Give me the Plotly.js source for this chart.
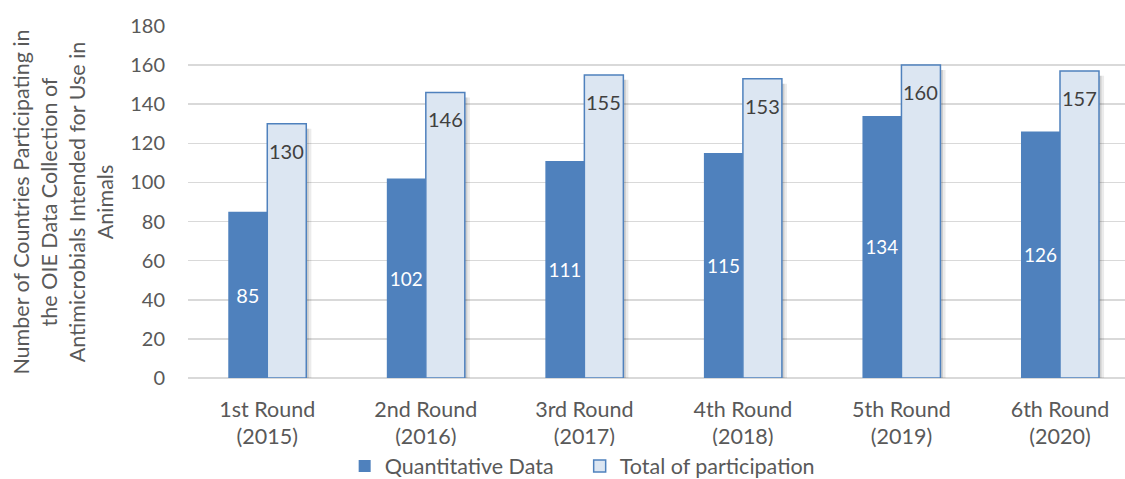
<!DOCTYPE html>
<html>
<head>
<meta charset="utf-8">
<script src="https://cdn.plot.ly/plotly-3.0.1.min.js"></script>
<style>html,body{margin:0;padding:0;background:#fff;}#chart{width:1125px;height:479px;}</style>
</head>
<body>
<div id="chart"></div>
<script>
const categories = ["1st Round<br>(2015)", "2nd Round<br>(2016)", "3rd Round<br>(2017)", "4th Round<br>(2018)", "5th Round<br>(2019)", "6th Round<br>(2020)"];
const quantitative = [85, 102, 111, 115, 134, 126];
const total = [130, 146, 155, 153, 160, 157];
const seriesNames = ["Quantitative Data", "Total of participation"];
const yTicks = [0, 20, 40, 60, 80, 100, 120, 140, 160, 180];

const FONT = "Lato, 'Open Sans', sans-serif";
const TXT = 21.5;
const BW = 0.246;           // bar width in category units
const SH = 0.032;           // shadow strip width
const traces = [
  // soft shadow right of the total bars
  {type: "bar", x: categories, y: total.map(v => v - 1.5), base: -1, width: SH, offset: BW,
   marker: {color: "rgba(0,0,0,0.08)", line: {width: 0}}, showlegend: false, hoverinfo: "none"},
  {type: "bar", x: categories, y: total.map(v => v - 1.5), base: -1, width: SH * 0.5, offset: BW,
   marker: {color: "rgba(0,0,0,0.12)", line: {width: 0}}, showlegend: false, hoverinfo: "none"},
  // shadow below baseline
  {type: "bar", x: categories, y: categories.map(() => 1.2), base: -1.2, width: 2 * BW + SH, offset: -BW,
   marker: {color: "rgba(0,0,0,0.13)", line: {width: 0}}, showlegend: false, hoverinfo: "none"},
  {
    type: "bar", name: seriesNames[0], x: categories, y: quantitative, width: BW, offset: -BW,
    marker: {color: "#4F81BD", line: {width: 0}},
    text: quantitative.map(String), textposition: "inside", insidetextanchor: "middle", textangle: 0,
    textfont: {color: "#FFFFFF", size: 20, family: FONT}, hoverinfo: "none"
  },
  {
    type: "bar", name: seriesNames[1], x: categories, y: total, width: BW, offset: 0,
    marker: {color: "#DCE6F2", line: {color: "#4F81BD", width: 1.5}},
    hoverinfo: "none"
  }
];

const annotations = total.map((v, i) => ({
  x: categories[i], y: v, xref: "x", yref: "y", text: String(v), showarrow: false,
  xshift: 19.5, yshift: -27, yanchor: "middle", xanchor: "center",
  font: {color: "#404040", size: 20, family: FONT}
}));

const layout = {
  width: 1125, height: 479,
  margin: {l: 188, r: 0, t: 26, b: 101},
  paper_bgcolor: "#FFFFFF", plot_bgcolor: "#FFFFFF",
  font: {family: FONT, color: "#595959", size: 20},
  barmode: "overlay",
  showlegend: true,
  legend: {orientation: "h", x: 0.418, xanchor: "center", xref: "paper",
           y: 0.027, yref: "container", yanchor: "middle",
           entrywidth: 190, entrywidthmode: "pixels",
           font: {size: TXT, color: "#595959", family: FONT}, itemwidth: 30, traceorder: "normal"},
  xaxis: {type: "category", range: [-0.5, 5.41], showgrid: false, zeroline: false, automargin: false,
          showline: false, ticks: "", ticklabelstandoff: 16, tickfont: {size: TXT, color: "#595959"}, fixedrange: true},
  yaxis: {range: [0, 180], tickvals: yTicks, ticktext: yTicks.map(String), showgrid: true, automargin: false,
          gridcolor: "#D9D9D9", gridwidth: 1.5, zeroline: true, zerolinecolor: "#D9D9D9", zerolinewidth: 1.5,
          showline: false, ticks: "", ticklabelstandoff: 22,
          tickfont: {size: 20, color: "#595959"},
          title: {text: "Number of Countries Participating in<br>the OIE Data Collection of<br>Antimicrobials Intended for Use in<br>Animals",
                  font: {size: TXT, color: "#595959"}, standoff: 10},
          fixedrange: true},
  annotations: annotations
};

Plotly.newPlot("chart", traces, layout, {displayModeBar: false, staticPlot: true});
</script>
</body>
</html>
